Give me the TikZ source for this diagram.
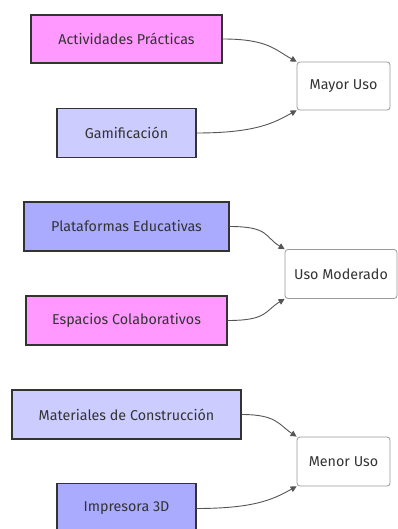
\documentclass[tikz,border=0pt]{standalone}
\usepackage{fontspec}
\setmainfont{Fira Sans}
\usetikzlibrary{arrows.meta}
\definecolor{pinkfill}{HTML}{FF99FF}
\definecolor{lilacfill}{HTML}{CCCCFF}
\definecolor{bluefill}{HTML}{AAAAFF}
\definecolor{inkgray}{HTML}{333333}
\definecolor{edgegray}{HTML}{555555}
\definecolor{boxgray}{HTML}{999999}
\tikzset{
  srcbox/.style={draw=inkgray, line width=1.3pt, inner sep=0pt, text=inkgray,
    font=\fontsize{14.3}{16}\selectfont},
  usebox/.style={draw=boxgray, line width=0.8pt, rounded corners=3pt, fill=white,
    inner sep=0pt, text=inkgray, font=\fontsize{14.3}{16}\selectfont},
  link/.style={draw=edgegray, line width=0.9pt,
    -{Triangle[length=6pt,width=6pt]}},
}
\begin{document}
\begin{tikzpicture}[x=1pt,y=-1pt]
\useasboundingbox[fill=white] (0,0) rectangle (397,529);

% Mayor Uso group
\node[srcbox, fill=pinkfill, minimum width=191pt, minimum height=48pt] (act) at (126.5,39) {Actividades Prácticas};
\node[srcbox, fill=lilacfill, minimum width=139pt, minimum height=49pt] (gam) at (126.5,133) {Gamificación};
\node[usebox, minimum width=93pt, minimum height=48pt] (mayor) at (343.5,86) {Mayor Uso};

% Uso Moderado group
\node[srcbox, fill=bluefill, minimum width=205pt, minimum height=49pt] (pla) at (126.5,226.5) {Plataformas Educativas};
\node[srcbox, fill=pinkfill, minimum width=201pt, minimum height=49pt] (esp) at (126.5,320.5) {Espacios Colaborativos};
\node[usebox, minimum width=112pt, minimum height=49pt] (moderado) at (341,274) {Uso Moderado};

% Menor Uso group
\node[srcbox, fill=lilacfill, minimum width=229pt, minimum height=49pt] (mat) at (126.5,414.5) {Materiales de Construcción};
\node[srcbox, fill=bluefill, minimum width=139pt, minimum height=50pt] (imp) at (126.5,508.5) {Impresora 3D};
\node[usebox, minimum width=93pt, minimum height=49pt] (menor) at (343.5,461.5) {Menor Uso};

% connectors: leave each source horizontally, end at a corner of the target
\draw[link] (act.east) .. controls +(45,0) and +(-22,-12) .. (mayor.north west);
\draw[link] (gam.east) .. controls +(60,0) and +(-22,12) .. (mayor.south west);
\draw[link] (pla.east) .. controls +(40,0) and +(-20,-12) .. (moderado.north west);
\draw[link] (esp.east) .. controls +(40,0) and +(-20,12) .. (moderado.south west);
\draw[link] (mat.east) .. controls +(35,0) and +(-18,-12) .. (menor.north west);
\draw[link] (imp.east) .. controls +(60,0) and +(-22,12) .. (menor.south west);
\end{tikzpicture}
\end{document}
